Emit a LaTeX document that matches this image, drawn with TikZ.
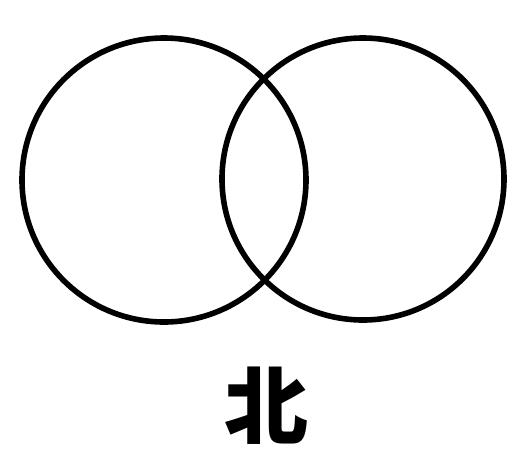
\documentclass[tikz,border=0pt]{standalone}
\usepackage{fontspec}
\newfontfamily\cjk{Noto Sans CJK SC}
\usepackage{tikz}
\usetikzlibrary{positioning}
\tikzset{
  ring/.style={draw=black,line width=2.8pt,circle,inner sep=0pt},
  charlabel/.style={font=\cjk\bfseries\fontsize{42}{44}\selectfont,inner sep=0pt}
}
\begin{document}
\begin{tikzpicture}[x=0.5pt,y=-0.5pt]
  \useasboundingbox (0,0) rectangle (526,452);
  \node[ring,minimum size=142pt] (leftring) at (164,180) {};
  \node[ring,minimum size=141pt] (rightring) at (363,179) {};
  \node[charlabel] (bei) at (266,406) {北};
\end{tikzpicture}
\end{document}
